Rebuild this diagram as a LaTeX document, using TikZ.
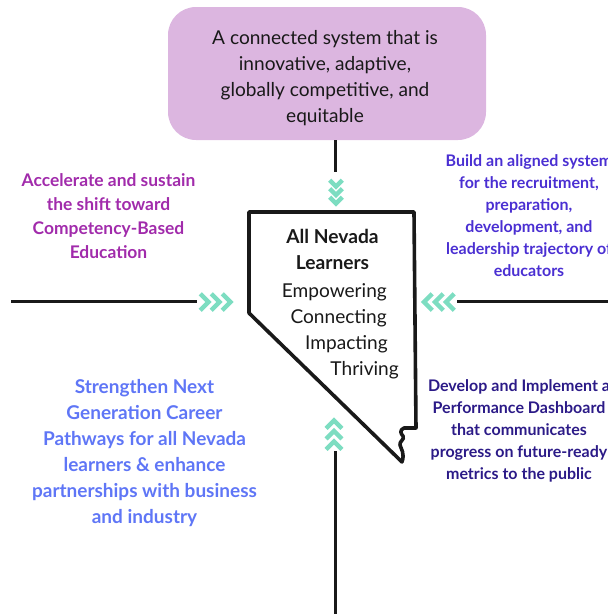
\documentclass[tikz,border=0pt]{standalone}
\usepackage{fontspec}
\setmainfont{Lato}
\definecolor{goalpurple}{HTML}{DCB6E0}
\definecolor{mint}{HTML}{7DDDC1}
\definecolor{cbemagenta}{HTML}{A12BAB}
\definecolor{alignindigo}{HTML}{4A2FD2}
\definecolor{dashnavy}{HTML}{2B1A87}
\definecolor{pathblue}{HTML}{5F76F6}
\tikzset{
	conn/.style={line width=3pt,black!90},
	goaltext/.style={align=center,font=\fontsize{19.1}{26}\selectfont,text=black!90,inner sep=0pt},
	sidetext/.style={align=center,font=\fontsize{16}{22}\selectfont\bfseries,inner sep=0pt},
	bigtext/.style={align=center,font=\fontsize{19.2}{26}\selectfont\bfseries,inner sep=0pt},
	chevrons/.pic={
		\foreach \d in {0,10,20}
			\draw[mint,line width=4.4pt,miter limit=10] (-7.5,-7.5+\d-10) -- (0,\d-10) -- (7.5,-7.5+\d-10);
	}
}
\begin{document}
\begin{tikzpicture}[x=1pt,y=-1pt]
\useasboundingbox (0,0) rectangle (608,614);
\node [fill=goalpurple,rounded corners=28pt,minimum width=318pt,minimum height=133pt,inner sep=0pt] (goal) at (327,73.5) {};
\node [goaltext] (goaltxt) at (325,78) {A connected system that is\\innovative, adaptive,\\globally competitive, and\\equitable};
\coordinate (topend) at (335,172);
\coordinate (leftstart) at (11,301.5);
\coordinate (leftend) at (197,301.5);
\coordinate (rightstart) at (608,301.5);
\coordinate (rightend) at (457,301.5);
\coordinate (botstart) at (335,614);
\coordinate (botend) at (335,451);
\draw[conn] (goal.south -| topend) -- (topend);
\draw[conn] (leftstart) -- (leftend);
\draw[conn] (rightstart) -- (rightend);
\draw[conn] (botstart) -- (botend);
\pic [scale=.85] at (336,195) {chevrons};
\pic [rotate=90,scale=1.1] at (219.5,302) {chevrons};
\pic [rotate=-90,scale=1.1] at (435,302) {chevrons};
\pic [rotate=180,scale=1.05] at (334,431) {chevrons};
% state outline
\draw[line width=3.6pt,black!90,line join=round] (249,212) -- (414,212) -- (416,428) -- (404,428)
	.. controls (399,430) and (401,434) .. (403,436)
	.. controls (405,440) and (399,441) .. (400,445)
	.. controls (401,449) and (405,453) .. (402,462) -- (249,313) -- cycle;
\node [bigtext,text=black!90] (learners) at (332.5,249) {All Nevada\\Learners};
\node [goaltext,anchor=east] (empowering) at (387,292) {Empowering};
\node [goaltext,anchor=east] (connecting) at (387,318) {Connecting};
\node [goaltext,anchor=east] (impacting) at (388,344) {Impacting};
\node [goaltext,anchor=east] (thriving) at (399,370) {Thriving};
\node [sidetext,font=\fontsize{17.4}{24}\selectfont\bfseries,text=cbemagenta] (cbe) at (108.5,216) {Accelerate and sustain\\the shift toward\\Competency-Based\\Education};
\node [sidetext,text=alignindigo] (aligned) at (529,216) {Build an aligned system\\for the recruitment,\\preparation,\\development, and\\leadership trajectory of\\educators};
\node [sidetext,text=dashnavy] (dashboard) at (519,430.5) {Develop and Implement a\\Performance Dashboard\\that communicates\\progress on future-ready\\metrics to the public};
\node [bigtext,font=\fontsize{19}{26}\selectfont\bfseries,text=pathblue] (career) at (144.5,453) {Strengthen Next\\Generation Career\\Pathways for all Nevada\\learners \& enhance\\partnerships with business\\and industry};
\end{tikzpicture}
\end{document}
